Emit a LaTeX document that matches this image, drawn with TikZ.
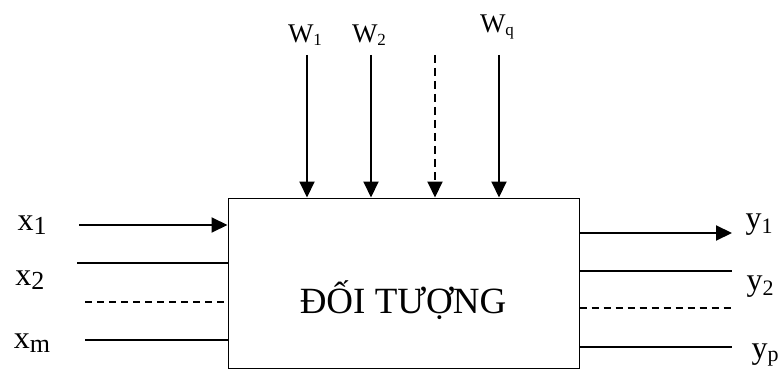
\documentclass[tikz,border=0pt]{standalone}
\usepackage{fontspec}
\setmainfont{Liberation Serif}
\usetikzlibrary{arrows.meta}

\newcommand{\sigsub}[3]{\raisebox{-#3pt}{\fontsize{#2}{#2}\selectfont #1}}

\begin{document}
\begin{tikzpicture}[
		x=1pt,y=1pt,
		>={Triangle[width=15pt,length=16pt]},
		objbox/.style={draw,line width=1pt,minimum width=351pt,minimum height=170pt,
			inner sep=0pt},
		sigarrow/.style={->,line width=2pt},
		sigline/.style={line width=1.3pt},
		sigdash/.style={line width=1.3pt,dash pattern=on 7pt off 5pt},
		siglabel/.style={anchor=base,inner sep=0pt,font=\fontsize{32}{32}\selectfont},
		distlabel/.style={anchor=base,inner sep=0pt,font=\fontsize{27}{27}\selectfont},
	]
	\useasboundingbox (0,0) rectangle (781,370);

	% ---------- object ----------
	\node[objbox] (obj) at (403.5,87) {};
	\node[anchor=base,inner sep=0pt,font=\fontsize{37}{37}\selectfont] (name) at (403,57) {ĐỐI TƯỢNG};

	% ---------- disturbances w ----------
	\coordinate (w1s) at (307,315);
	\coordinate (w2s) at (371,315);
	\coordinate (wds) at (435,315);
	\coordinate (wqs) at (499,315);
	\draw[sigarrow] (w1s) -- (w1s |- obj.north);
	\draw[sigarrow] (w2s) -- (w2s |- obj.north);
	\draw[sigarrow,dash pattern=on 8pt off 5pt] (wds) -- (wds |- obj.north);
	\draw[sigarrow] (wqs) -- (wqs |- obj.north);
	\node[distlabel] (w1) at (305,327) {W\sigsub{1}{17}{3}};
	\node[distlabel] (w2) at (369,327) {W\sigsub{2}{17}{3}};
	\node[distlabel] (wq) at (497,337) {W\sigsub{q}{17}{3}};

	% ---------- inputs x ----------
	\coordinate (x1s) at (79,145);
	\coordinate (x2s) at (77,107);
	\coordinate (xds) at (85,68);
	\coordinate (xms) at (85,30);
	\draw[sigarrow] (x1s) -- (x1s -| obj.west);
	\draw[sigline] (x2s) -- (x2s -| obj.west);
	\draw[sigdash] (xds) -- (xds -| obj.west);
	\draw[sigline] (xms) -- (xms -| obj.west);
	\node[siglabel] (x1) at (32,140) {x\sigsub{1}{26}{4}};
	\node[siglabel] (x2) at (30,85) {x\sigsub{2}{26}{4}};
	\node[siglabel] (xm) at (32,22) {x\sigsub{m}{26}{4}};

	% ---------- outputs y ----------
	\coordinate (y1e) at (732,137);
	\coordinate (y2e) at (732,99);
	\coordinate (yde) at (732,62);
	\coordinate (ype) at (732,23);
	\draw[sigarrow] (y1e -| obj.east) -- (y1e);
	\draw[sigline] (y2e -| obj.east) -- (y2e);
	\draw[sigdash] (yde -| obj.east) -- (yde);
	\draw[sigline] (ype -| obj.east) -- (ype);
	\node[siglabel] (y1) at (759,142) {y\sigsub{1}{22}{5}};
	\node[siglabel] (y2) at (760,80) {y\sigsub{2}{22}{5}};
	\node[siglabel] (yp) at (765,12) {y\sigsub{p}{22}{3}};

\end{tikzpicture}
\end{document}
